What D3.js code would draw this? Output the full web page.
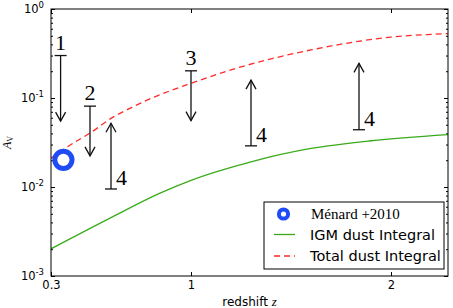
<!DOCTYPE html>
<html>
<head>
<meta charset="utf-8">
<script src="https://cdn.jsdelivr.net/npm/d3@7"></script>
<style>
  body { margin: 0; background: #fff; }
  svg { display: block; }
  .tick text { font-family: "DejaVu Sans", sans-serif; font-size: 11.5px; fill: #000; }
  .tick line { stroke: #000; }
</style>
</head>
<body>
<svg width="453" height="308"></svg>
<script>
// IGM dust curve
const zIgm = [0.3, 0.6, 0.845, 1.0, 1.3, 1.6, 1.9, 2.285];
const igmDust = [0.00202, 0.00453, 0.00853, 0.0119, 0.0192, 0.0271, 0.0331, 0.0388];

// total dust curve
const zTotal = [0.3, 0.4, 0.5, 0.6, 0.7, 0.8, 0.9, 1.0, 1.2, 1.4, 1.6, 1.8, 2.0, 2.2, 2.285];
const totalDust = [0.0211, 0.030, 0.041, 0.059, 0.0776, 0.099, 0.1216, 0.146, 0.207, 0.275, 0.347, 0.42, 0.484, 0.519, 0.53];

// Ménard +2010 point
const menardZ = [0.362];
const menardA = [0.0202];

// limit arrows: start (bar) value -> tip value
const arrowZ = [0.348, 0.495, 0.6, 1.0, 1.3, 1.84];
const arrowFrom = [0.30, 0.081, 0.0095, 0.202, 0.029, 0.044];
const arrowTo = [0.055, 0.0224, 0.052, 0.0557, 0.159, 0.245];
const arrowLabel = ["1", "2", "4", "3", "4", "4"];

const xTicks = [0.3, 1, 2];
const yTicks = [1e-3, 1e-2, 1e-1, 1];
const yExp = ["-3", "-2", "-1", "0"];

const svg = d3.select("svg");
const margin = {top: 9, right: 5, bottom: 32, left: 51};
const width = 453 - margin.left - margin.right;
const height = 308 - margin.top - margin.bottom;

const g = svg.append("g").attr("transform", `translate(${margin.left},${margin.top})`);

const x = d3.scaleLinear().domain([0.3, 2.285]).range([0, width]);
const y = d3.scaleLog().domain([1e-3, 1]).range([height, 0]);

// minor log ticks 2..9 per decade
const yMinor = [];
[1e-3, 1e-2, 1e-1].forEach(d => { for (let k = 2; k <= 9; k++) yMinor.push(d * k); });

// bottom / top axes
g.append("g").attr("transform", `translate(0,${height})`)
  .call(d3.axisBottom(x).tickValues(xTicks).tickFormat(d3.format("")).tickSize(-4).tickPadding(5));
g.append("g")
  .call(d3.axisTop(x).tickValues(xTicks).tickFormat("").tickSize(-4));

// left axis with 10^n labels
const yAxisG = g.append("g")
  .call(d3.axisLeft(y).tickValues(yTicks).tickSize(-4).tickPadding(7));
yAxisG.selectAll(".tick text").each(function(d, i) {
  const t = d3.select(this).text("");
  t.append("tspan").text("10");
  t.append("tspan").attr("dy", "-5").attr("font-size", "8.5px").text(yExp[i]);
});
g.append("g").call(d3.axisLeft(y).tickValues(yMinor).tickFormat("").tickSize(-2));

// right axis
const rightG = g.append("g").attr("transform", `translate(${width},0)`);
rightG.call(d3.axisRight(y).tickValues(yTicks).tickFormat("").tickSize(-4));
rightG.append("g").call(d3.axisRight(y).tickValues(yMinor).tickFormat("").tickSize(-2));

g.selectAll(".domain").remove();

// curves
const line = d3.line().x(d => x(d[0])).y(d => y(d[1])).curve(d3.curveMonotoneX);
g.append("clipPath").attr("id", "clip")
  .append("rect").attr("width", width).attr("height", height);
const plot = g.append("g").attr("clip-path", "url(#clip)");

plot.append("path")
  .datum(zIgm.map((z, i) => [z, igmDust[i]]))
  .attr("d", line).attr("fill", "none")
  .attr("stroke", "#3aaa1a").attr("stroke-width", 1.3);

plot.append("path")
  .datum(zTotal.map((z, i) => [z, totalDust[i]]))
  .attr("d", line).attr("fill", "none")
  .attr("stroke", "#ff2a2a").attr("stroke-width", 1.3)
  .attr("stroke-dasharray", "6,4");

// Ménard point
plot.selectAll("circle.menard")
  .data(menardZ)
  .enter().append("circle")
  .attr("class", "menard")
  .attr("cx", d => x(d))
  .attr("cy", (d, i) => y(menardA[i]))
  .attr("r", 8.6)
  .attr("fill", "none")
  .attr("stroke", "#1f4cf5")
  .attr("stroke-width", 5);

// arrows
const arrows = arrowZ.map((z, i) => ({z, from: arrowFrom[i], to: arrowTo[i], label: arrowLabel[i]}));
const ag = g.selectAll("g.arrow").data(arrows).enter().append("g").attr("class", "arrow");

ag.append("line")
  .attr("x1", d => x(d.z)).attr("x2", d => x(d.z))
  .attr("y1", d => y(d.from)).attr("y2", d => y(d.to))
  .attr("stroke", "#111").attr("stroke-width", 1.3);

ag.append("line")
  .attr("x1", d => x(d.z) - 6).attr("x2", d => x(d.z) + 6)
  .attr("y1", d => y(d.from)).attr("y2", d => y(d.from))
  .attr("stroke", "#111").attr("stroke-width", 1.3);

ag.append("path")
  .attr("d", d => {
    const tx = x(d.z), ty = y(d.to);
    const s = d.to < d.from ? -1 : 1; // down arrow: head points down
    return `M${tx - 5},${ty + s * 9}L${tx},${ty}L${tx + 5},${ty + s * 9}`;
  })
  .attr("fill", "none").attr("stroke", "#111").attr("stroke-width", 1.3);

ag.append("text")
  .attr("x", d => d.to < d.from ? x(d.z) : x(d.z) + 5)
  .attr("y", d => d.to < d.from ? y(d.from) - 6 : y(d.from) - 4)
  .attr("text-anchor", d => d.to < d.from ? "middle" : "start")
  .attr("font-family", "'Liberation Serif', serif")
  .attr("font-size", "22px")
  .text(d => d.label);

// frame
g.append("rect").attr("width", width).attr("height", height)
  .attr("fill", "none").attr("stroke", "#000").attr("stroke-width", 1);

// axis labels
const xl = g.append("text")
  .attr("x", width / 2).attr("y", height + 30)
  .attr("text-anchor", "middle")
  .attr("font-family", "'DejaVu Sans', sans-serif").attr("font-size", "12px");
xl.append("tspan").text("redshift ");
xl.append("tspan").attr("font-family", "'Liberation Serif', serif").attr("font-style", "italic").attr("font-size", "13px").text("z");

const yl = g.append("text")
  .attr("transform", `translate(${-40},${height / 2}) rotate(-90)`)
  .attr("text-anchor", "middle")
  .attr("font-family", "'Liberation Serif', serif").attr("font-size", "12px");
yl.append("tspan").attr("font-style", "italic").text("A");
yl.append("tspan").attr("font-size", "8px").attr("dy", "2").text("V");

// legend
const lg = g.append("g").attr("transform", `translate(${264 - margin.left},${202 - margin.top})`);
lg.append("rect").attr("width", 180).attr("height", 67)
  .attr("fill", "#fff").attr("stroke", "#000").attr("stroke-width", 1);

lg.append("circle").attr("cx", 19.5).attr("cy", 12).attr("r", 4.6)
  .attr("fill", "none").attr("stroke", "#1f4cf5").attr("stroke-width", 4);
lg.append("text").attr("x", 47).attr("y", 17)
  .attr("font-family", "'Liberation Serif', serif").attr("font-size", "15px")
  .text("Ménard +2010");

lg.append("line").attr("x1", 10).attr("x2", 31).attr("y1", 32.5).attr("y2", 32.5)
  .attr("stroke", "#3aaa1a").attr("stroke-width", 1.3);
lg.append("text").attr("x", 46).attr("y", 37.5)
  .attr("font-family", "'DejaVu Sans', sans-serif").attr("font-size", "14.5px")
  .text("IGM dust Integral");

lg.append("line").attr("x1", 10).attr("x2", 31).attr("y1", 54).attr("y2", 54)
  .attr("stroke", "#ff2a2a").attr("stroke-width", 1.3).attr("stroke-dasharray", "6,4");
lg.append("text").attr("x", 46).attr("y", 59)
  .attr("font-family", "'DejaVu Sans', sans-serif").attr("font-size", "14.5px")
  .text("Total dust Integral");
</script>
</body>
</html>
